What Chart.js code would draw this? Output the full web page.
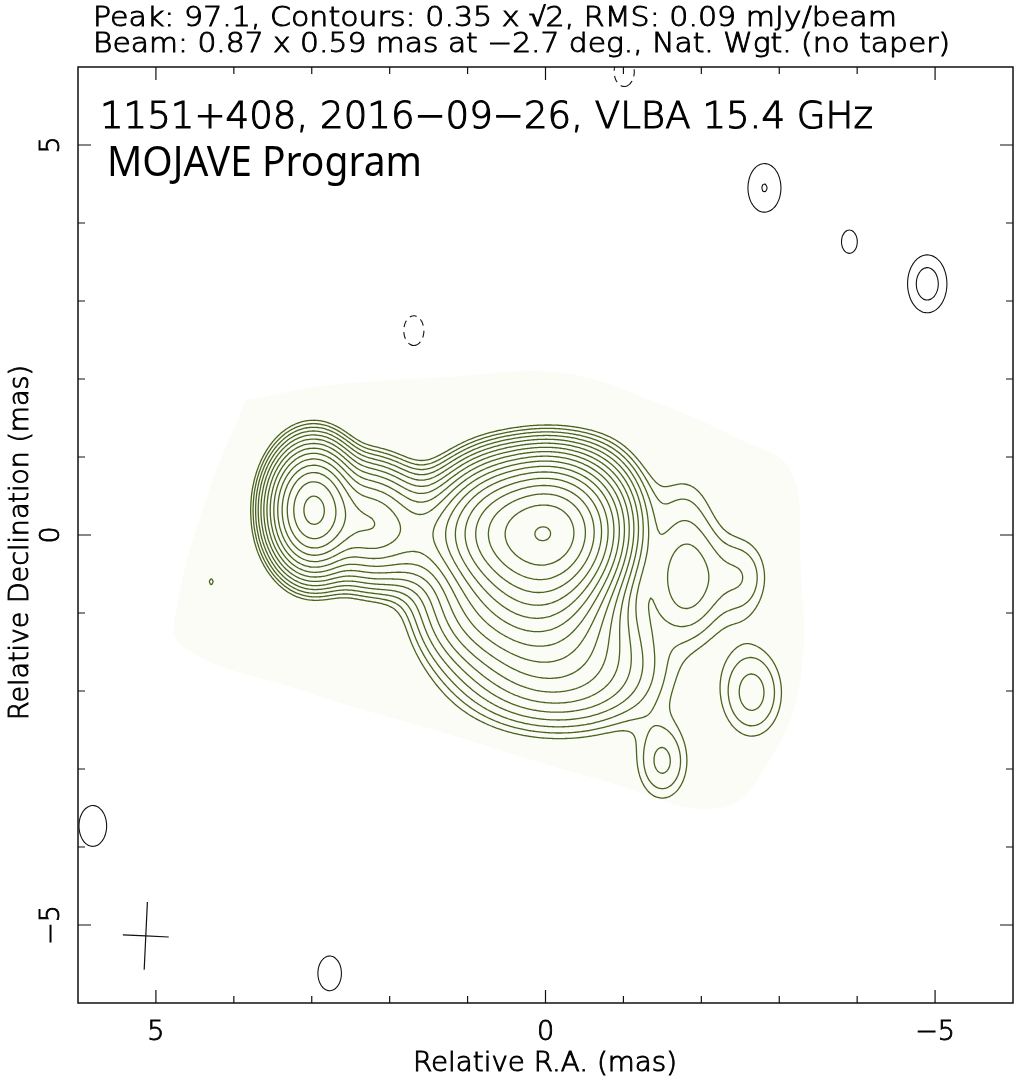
<!DOCTYPE html>
<html>
<head>
<meta charset="utf-8">
<script src="https://cdn.jsdelivr.net/npm/chart.js@4.4.1/dist/chart.umd.min.js"></script>
<style>
    html, body { margin: 0; padding: 0; background: #fff; }
    #wrap { width: 1017px; height: 1084px; position: relative; }
</style>
</head>
<body>
<div id="wrap"><canvas id="map"></canvas></div>
<script>
// ================= TEXT =================
const headerLines = [
    "Peak: 97.1, Contours: 0.35 x \u221A2, RMS: 0.09 mJy/beam",
    "Beam: 0.87 x 0.59 mas at \u22122.7 deg., Nat. Wgt. (no taper)"
];
const sourceTitle = "1151+408, 2016\u221209\u221226, VLBA 15.4 GHz";
const programTitle = "MOJAVE Program";
const xTitle = "Relative R.A. (mas)";
const yTitle = "Relative Declination (mas)";

// ================= AXES (mas) =================
const axisMin = -6, axisMax = 6;
const labelTicks = [-5, 0, 5];
const minorTicks = [-5, -4, -3, -2, -1, 0, 1, 2, 3, 4, 5];

// ================= CONTOURS (mJy/beam) =================
const levels = [0.35, 0.495, 0.7, 0.99, 1.4, 1.98, 2.8, 3.96, 5.6, 7.92, 11.2, 15.8, 22.4, 31.7, 44.8, 63.4, 89.6];
const negLevels = [-0.35];

// ================= BEAM =================
const beamMaj = 0.87, beamMin = 0.59, beamPA = -2.7;
const beamRA = 5.13, beamDec = -5.14;

// ================= SOURCE COMPONENTS =================
// position (mas), peak (mJy/beam), intrinsic FWHM size (mas)
const srcRA    = [-0.08, 0.55, 1.05, 1.65, 2.25, 2.98, 0.10, 0.00, -0.20, 0.90, -0.70, -1.77, -1.82, -2.54, -1.50, -2.65, 4.29];
const srcDec   = [0.06, 0.05, 0.02, 0.00, 0.15, 0.32, -0.60, -1.30, -1.85, -0.90, 0.40, 0.45, -0.55, -0.54, -2.91, -2.02, -0.60];
const srcPeak  = [74, 35, 3.0, 4.2, 10, 35, 18, 4.0, 2.0, 3.0, 1.5, 0.30, 1.25, 0.60, 0.75, 0.80, 0.352];
const srcSizeX = [0.72, 0.70, 0.50, 0.50, 0.40, 0.20, 0.90, 1.30, 1.60, 0.80, 0.50, 0.40, 0.45, 0.10, 0.05, 0.36, 0.00];
const srcSizeY = [0.40, 0.40, 0.00, 0.00, 0.10, 0.20, 0.50, 0.45, 0.35, 0.50, 0.50, 0.20, 0.85, 0.30, 0.15, 0.53, 0.00];

// ================= NOISE PATCHES =================
const noiseRA    = [-2.81, -3.90, -4.90, 5.81, 2.77, 1.69, -1.01];
const noiseDec   = [4.45, 3.76, 3.22, -3.73, -5.62, 2.62, 5.94];
const noisePeak  = [0.50, 0.38, 0.58, 0.45, 0.42, -0.40, -0.40];
const noiseSizeX = [0.0, 0.0, 0.0, 0.0, 0.0, 0.0, 0.0];
const noiseSizeY = [0.0, 0.0, 0.0, 0.0, 0.0, 0.0, 0.0];

// ================= CLEAN WINDOW (shaded) =================
const windowRA  = [3.85, 2.76, 1.22, -0.19, -1.35, -2.50, -3.14, -3.27, -3.27, -2.88, -2.24, -0.71, 1.22, 3.14, 4.68, 4.71, 4.36];
const windowDec = [1.73, 1.92, 2.03, 2.08, 1.73, 1.22, 0.83, -0.32, -1.86, -2.88, -3.50, -3.14, -2.56, -1.99, -1.41, -0.83, 0.45];

// ================= FIELD + CONTOURING =================
const FW = 2.3548;
const step = 0.03, g0 = -6.6, N = 441;

function buildField(ra, dec, peak, sx, sy) {
    const f = new Float64Array(N * N);
    const bx = (beamMin / FW) ** 2, by = (beamMaj / FW) ** 2;
    for (let k = 0; k < ra.length; k++) {
        const vx = bx + (sx[k] / FW) ** 2, vy = by + (sy[k] / FW) ** 2;
        for (let j = 0; j < N; j++) {
            const dy = g0 + j * step - dec[k];
            const ey = dy * dy / (2 * vy);
            if (ey > 30) continue;
            for (let i = 0; i < N; i++) {
                const dx = g0 + i * step - ra[k];
                f[j * N + i] += peak[k] * Math.exp(-dx * dx / (2 * vx) - ey);
            }
        }
    }
    return f;
}

function edgePoint(f, key, level) {
    const t = key[0];
    const [i, j] = key.slice(1).split("_").map(Number);
    if (t === "h") {
        const a = f[j * N + i], b = f[j * N + i + 1];
        const u = (level - a) / (b - a);
        return { x: g0 + (i + u) * step, y: g0 + j * step };
    }
    const a = f[j * N + i], b = f[(j + 1) * N + i];
    const u = (level - a) / (b - a);
    return { x: g0 + i * step, y: g0 + (j + u) * step };
}

function traceContours(f, level) {
    const segs = [];
    const byKey = new Map();
    const add = (p, q) => {
        const id = segs.length;
        segs.push([p, q]);
        for (const k of [p, q]) {
            if (!byKey.has(k)) byKey.set(k, []);
            byKey.get(k).push(id);
        }
    };
    for (let j = 0; j < N - 1; j++) {
        for (let i = 0; i < N - 1; i++) {
            const a = f[j * N + i], b = f[j * N + i + 1], c = f[(j + 1) * N + i + 1], d = f[(j + 1) * N + i];
            const code = (a >= level ? 1 : 0) | (b >= level ? 2 : 0) | (c >= level ? 4 : 0) | (d >= level ? 8 : 0);
            if (code === 0 || code === 15) continue;
            const B = "h" + i + "_" + j, R = "v" + (i + 1) + "_" + j;
            const T = "h" + i + "_" + (j + 1), L = "v" + i + "_" + j;
            const mid = (a + b + c + d) / 4 >= level;
            switch (code) {
                case 1: case 14: add(B, L); break;
                case 2: case 13: add(B, R); break;
                case 3: case 12: add(L, R); break;
                case 4: case 11: add(R, T); break;
                case 6: case 9: add(B, T); break;
                case 7: case 8: add(L, T); break;
                case 5: if (mid) { add(B, R); add(L, T); } else { add(B, L); add(R, T); } break;
                case 10: if (mid) { add(B, L); add(R, T); } else { add(B, R); add(L, T); } break;
            }
        }
    }
    const used = new Uint8Array(segs.length);
    const extend = arr => {
        for (;;) {
            const tail = arr[arr.length - 1];
            let next = -1;
            for (const id of byKey.get(tail)) if (!used[id]) { next = id; break; }
            if (next < 0) return;
            used[next] = 1;
            const sg = segs[next];
            arr.push(sg[0] === tail ? sg[1] : sg[0]);
        }
    };
    const chains = [];
    for (let s = 0; s < segs.length; s++) {
        if (used[s]) continue;
        used[s] = 1;
        const fwd = [segs[s][0], segs[s][1]];
        extend(fwd);
        const back = [segs[s][0]];
        extend(back);
        const keys = back.reverse().concat(fwd.slice(1));
        chains.push(keys.map(k => edgePoint(f, k, level)));
    }
    return chains;
}

const srcField = buildField(srcRA, srcDec, srcPeak, srcSizeX, srcSizeY);
const noiseField = buildField(noiseRA, noiseDec, noisePeak, noiseSizeX, noiseSizeY);
const negField = noiseField.map(v => -v);

const datasets = [];
const lineSet = (data, color, width, dash) => ({
    data: data,
    showLine: true,
    borderColor: color,
    borderWidth: width,
    borderDash: dash || [],
    pointRadius: 0,
    tension: 0.1,
    fill: false
});

levels.forEach(lv => {
    traceContours(srcField, lv).forEach(c => datasets.push(lineSet(c, "#4b6320", 1.3)));
    traceContours(noiseField, lv).forEach(c => datasets.push(lineSet(c, "#111", 1.1)));
});
negLevels.forEach(lv => {
    traceContours(negField, -lv).forEach(c => datasets.push(lineSet(c, "#111", 1.1, [7, 5])));
});

// beam cross
const paRad = beamPA * Math.PI / 180;
const majDx = Math.sin(paRad) * beamMaj / 2, majDy = Math.cos(paRad) * beamMaj / 2;
const minDx = Math.cos(paRad) * beamMin / 2, minDy = -Math.sin(paRad) * beamMin / 2;
datasets.push(lineSet([{ x: beamRA + majDx, y: beamDec + majDy }, { x: beamRA - majDx, y: beamDec - majDy }], "#111", 1.2));
datasets.push(lineSet([{ x: beamRA + minDx, y: beamDec + minDy }, { x: beamRA - minDx, y: beamDec - minDy }], "#111", 1.2));

// shaded window, drawn underneath
const windowPts = windowRA.map((x, i) => ({ x: x, y: windowDec[i] }));
windowPts.push(windowPts[0]);
datasets.push({
    data: windowPts,
    showLine: true,
    borderWidth: 0,
    borderColor: "rgba(0,0,0,0)",
    backgroundColor: "#fbfcf6",
    fill: "shape",
    tension: 0.4,
    pointRadius: 0,
    order: 10
});

// ================= FRAME, TICKS, TEXT =================
// thin font plus a light stroke, close to the plotter's line font
function fitText(ctx, text, x, y, width, font, rotate, stroke) {
    ctx.save();
    ctx.font = font;
    const w = ctx.measureText(text).width;
    ctx.translate(x, y);
    if (rotate) ctx.rotate(-Math.PI / 2);
    ctx.scale(width / w, 1);
    ctx.textAlign = "left";
    ctx.textBaseline = "alphabetic";
    ctx.fillText(text, 0, 0);
    if (stroke) {
        ctx.lineWidth = stroke;
        ctx.strokeText(text, 0, 0);
    }
    ctx.restore();
}

const fmt = v => (v < 0 ? "\u2212" + Math.abs(v) : String(v));
const lineFont = size => "200 " + size + "px 'DejaVu Sans'";

const framePlugin = {
    id: "frame",
    afterDatasetsDraw(chart) {
        const { ctx, chartArea: a, scales: { x, y } } = chart;
        ctx.save();
        ctx.strokeStyle = "#111";
        ctx.lineWidth = 1.5;
        ctx.strokeRect(a.left, a.top, a.right - a.left, a.bottom - a.top);
        ctx.lineWidth = 1.2;
        ctx.beginPath();
        minorTicks.forEach(v => {
            const len = labelTicks.includes(v) ? 13 : 7;
            const px = x.getPixelForValue(v), py = y.getPixelForValue(v);
            ctx.moveTo(px, a.bottom); ctx.lineTo(px, a.bottom - len);
            ctx.moveTo(px, a.top); ctx.lineTo(px, a.top + len);
            ctx.moveTo(a.left, py); ctx.lineTo(a.left + len, py);
            ctx.moveTo(a.right, py); ctx.lineTo(a.right - len, py);
        });
        ctx.stroke();

        ctx.fillStyle = "#000";
        ctx.strokeStyle = "#000";
        ctx.font = lineFont(27);
        ctx.textAlign = "center";
        ctx.textBaseline = "alphabetic";
        ctx.lineWidth = 0.9;
        labelTicks.forEach(v => {
            const px = x.getPixelForValue(v);
            ctx.fillText(fmt(v), px, a.bottom + 37);
            ctx.strokeText(fmt(v), px, a.bottom + 37);
            ctx.save();
            ctx.translate(a.left - 19, y.getPixelForValue(v));
            ctx.rotate(-Math.PI / 2);
            ctx.fillText(fmt(v), 0, 0);
            ctx.strokeText(fmt(v), 0, 0);
            ctx.restore();
        });

        fitText(ctx, xTitle, 413, 1071, 264, lineFont(26), false, 0.9);
        fitText(ctx, yTitle, 28, 720, 355, lineFont(26), true, 0.9);
        fitText(ctx, headerLines[0], 93, 26, 804, lineFont(27), false, 0.9);
        fitText(ctx, headerLines[1], 93, 52, 857, lineFont(27), false, 0.9);
        fitText(ctx, sourceTitle, 100, 128, 773, lineFont(37), false, 1.1);
        fitText(ctx, programTitle, 107, 176, 315, "42px 'Noto Sans'");
        ctx.restore();
    }
};

Chart.defaults.font.family = "'DejaVu Sans'";

new Chart(document.getElementById("map"), {
    type: "scatter",
    data: { datasets: datasets },
    options: {
        responsive: true,
        maintainAspectRatio: false,
        animation: false,
        devicePixelRatio: 1,
        layout: { padding: { left: 78, right: 4, top: 67, bottom: 81 } },
        plugins: { legend: { display: false }, tooltip: { enabled: false } },
        events: [],
        scales: {
            x: { type: "linear", min: axisMin, max: axisMax, reverse: true, display: false },
            y: { type: "linear", min: axisMin, max: axisMax, display: false }
        }
    },
    plugins: [framePlugin]
});
</script>
</body>
</html>
